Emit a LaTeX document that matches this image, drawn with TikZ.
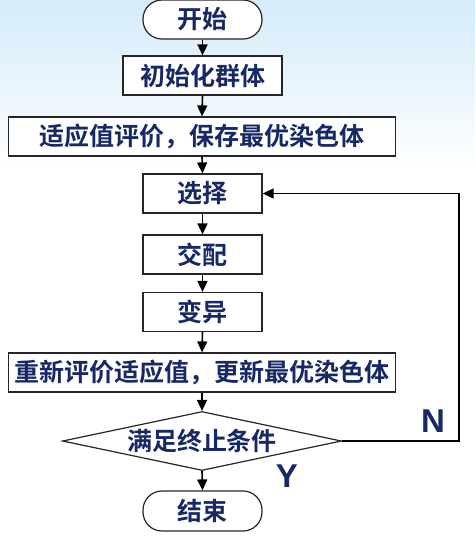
\documentclass[tikz,border=0pt]{standalone}
\usepackage{fontspec}
\newfontfamily\cjk{Noto Sans CJK SC Bold}
\newfontfamily\lat{Liberation Sans}
\usetikzlibrary{arrows.meta,shapes.geometric}
\definecolor{navy}{RGB}{22,40,102}
\definecolor{skyback}{RGB}{212,235,249}

\begin{document}
\begin{tikzpicture}[x=1pt,y=-1pt,>={Triangle[length=11pt,width=10pt]},
  box/.style={draw=black!85,line width=1.2pt,fill=white,minimum height=39pt,inner sep=0pt,
    font=\cjk\fontsize{25}{25}\selectfont,text=navy},
  term/.style={box,rounded corners=19pt},
  flow/.style={line width=1.6pt,->}]
  \useasboundingbox (0,0) rectangle (475,539);
  \shade[top color=skyback,bottom color=white] (0,0) rectangle (475,170);

  \node[term,minimum width=119pt] (start) at (202.5,19.5) {开始};
  \node[box,minimum width=159pt] (init) at (202.5,75.5) {初始化群体};
  \node[box,minimum width=387pt] (eval) at (202,136.5) {适应值评价，保存最优染色体};
  \node[box,minimum width=119pt] (sel) at (202.5,193.5) {选择};
  \node[box,minimum width=119pt] (cross) at (202.5,254.5) {交配};
  \node[box,minimum width=119pt] (mut) at (202.5,312) {变异};
  \node[box,minimum width=387pt] (reeval) at (202,372.5) {重新评价适应值，更新最优染色体};
  \node[box,shape=diamond,aspect=4.7,minimum width=279pt,minimum height=59pt] (cond) at (202,441) {满足终止条件};
  \node[term,minimum width=119pt,minimum height=40pt] (end) at (202.5,511) {结束};

  \foreach \a/\b in {start/init,init/eval,eval/sel,sel/cross,cross/mut,mut/reeval,reeval/cond,cond/end}
    \draw[flow] (\a.south) -- (\b.north);

  \coordinate (turn) at (459,441);
  \draw[flow] (cond.east) -- (turn) |- (sel.east);

  \node[text=navy,font=\lat\bfseries\fontsize{33}{33}\selectfont] (no) at (433,421) {N};
  \node[text=navy,font=\lat\bfseries\fontsize{33}{33}\selectfont] (yes) at (287,476) {Y};
\end{tikzpicture}
\end{document}
